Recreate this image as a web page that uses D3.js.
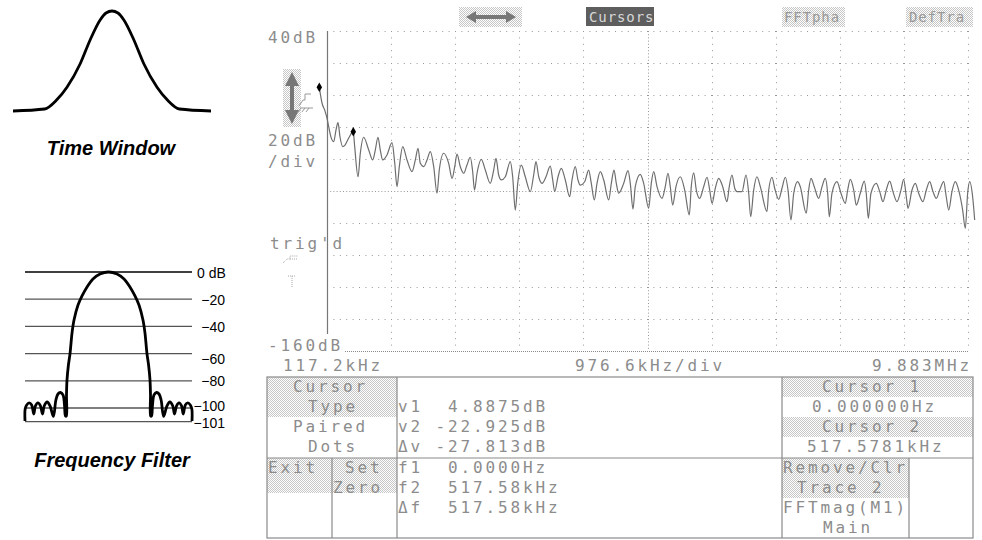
<!DOCTYPE html>
<html>
<head>
<meta charset="utf-8">
<script src="https://cdn.jsdelivr.net/npm/d3@7"></script>
<style>
body { margin: 0; background: #fff; }
svg { display: block; }
</style>
</head>
<body>
<script>
// FFT magnitude trace (kHz, dB)
var traceKHz = [0,41,82,117,143,178,219,254,285,315,
    357,392,448,517.6,539,590,625,676,753,814,
    853,894,929,966,1031,1108,1149,1184,1219,1271,
    1336,1412,1463,1504,1539,1591,1641,1691,1743,1793,
    1828,1895,1971,2022,2063,2098,2148,2200,2250,2300,
    2334,2365,2403,2468,2529,2605,2657,2692,2733,2773,
    2834,2910,2946,2986,3023,3077,3138,3215,3266,3301,
    3343,3393,3454,3519,3556,3586,3637,3687,3748,3815,
    3850,3900,3941,3976,4043,4104,4144,4190,4231,4281,
    4333,4409,4449,4490,4525,4561,4638,4703,4738,4779,
    4814,4890,4942,5018,5058,5095,5145,5221,5271,5312,
    5347,5384,5434,5500,5567,5637,5667,5704,5744,5795,
    5856,5907,5948,5983,6033,6085,6146,6211,6246,6287,
    6329,6364,6440,6501,6542,6572,6618,6668,6719,6821,
    6847,6897,6938,6999,7049,7100,7141,7186,7228,7288,
    7328,7419,7456,7491,7541,7608,7659,7709,7745,7770,
    7811,7887,7948,8014,8050,8090,8142,8181,8242,8303,
    8333,8364,8405,8486,8538,8588,8638,8690,8740,8801,
    8862,8903,8943,8969,9030,9080,9132,9197,9248,9299,
    9350,9400,9452,9513,9552,9589,9639,9689,9741,9802,
    9842,9878,9909,9959,9985];
var traceDb = [4.9,-5.0,-9.4,-14.4,-19.8,-26.3,-29.2,-21.9,-17.3,-26.1,
    -32.3,-31.3,-26.9,-22.9,-32.3,-51.1,-36.3,-26.4,-34.4,-40.6,
    -34.4,-26.4,-34.4,-40.6,-37.5,-29.8,-42.5,-57.3,-44.8,-32.3,
    -40.6,-47.9,-40.6,-33.3,-42.7,-44.8,-40.6,-35.4,-44.8,-61.4,
    -46.9,-36.4,-42.7,-52.1,-44.8,-36.9,-44.8,-48.9,-43.8,-38.9,
    -46.9,-59.4,-48.9,-40.2,-46.9,-55.2,-46.9,-39.6,-50.0,-53.1,
    -51.1,-41.7,-51.1,-71.9,-55.2,-43.8,-51.1,-60.4,-50.0,-41.7,
    -51.1,-55.2,-51.1,-44.4,-53.1,-60.4,-51.1,-45.8,-53.1,-63.6,
    -53.1,-44.8,-53.1,-56.3,-54.2,-46.9,-55.2,-65.6,-55.2,-47.9,
    -53.1,-65.6,-55.2,-46.9,-55.2,-61.4,-55.2,-47.3,-55.2,-71.3,
    -57.3,-49.6,-55.2,-70.8,-55.2,-47.9,-57.3,-64.6,-57.3,-48.9,
    -57.3,-68.8,-57.3,-51.1,-59.4,-75.0,-57.3,-48.6,-59.4,-64.6,
    -57.3,-51.4,-59.4,-67.7,-58.3,-52.1,-57.3,-66.7,-57.3,-50.0,
    -58.3,-60.4,-60.4,-50.0,-61.4,-76.1,-59.4,-51.1,-57.3,-72.9,
    -59.4,-51.4,-58.3,-65.2,-58.3,-51.4,-59.4,-78.1,-61.4,-54.2,
    -57.3,-73.9,-59.4,-52.1,-57.3,-64.6,-57.3,-52.1,-61.4,-76.1,
    -61.4,-54.2,-61.4,-67.7,-59.4,-52.7,-59.4,-68.8,-61.4,-53.8,
    -61.4,-77.1,-61.4,-55.2,-60.4,-66.7,-59.4,-53.8,-60.4,-66.7,
    -59.4,-52.7,-63.6,-70.8,-59.4,-55.2,-61.4,-66.7,-59.4,-54.2,
    -60.4,-64.6,-59.4,-54.2,-63.6,-71.9,-60.4,-54.2,-59.4,-71.9,
    -83.3,-61.4,-54.2,-65.6,-78.1];

// paired-dot cursors
var cursorKHz = [0, 517.58];
var cursorDb = [4.8875, -22.925];

// time window sketch (normalised time, amplitude)
var windowT = [-1,-0.68,-0.56,-0.455,-0.32,-0.22,-0.12,-0.06,0,0.06,0.12,0.22,0.32,0.455,0.56,0.68,1];
var windowAmp = [-0.01,0.01,0.10,0.23,0.47,0.71,0.91,0.98,1,0.98,0.91,0.71,0.47,0.23,0.10,0.01,-0.01];

// frequency filter sketch (bins, dB)
var filterBin = [-10,-9.98,-9.8,-9.5,-9.2,-8.95,-8.75,-8.45,-8.15,-7.9,-7.7,-7.35,-7.0,-6.6,-6.3,-6.05,-5.75,-5.45,-5.27,-5.15,
    -5.05,-5.03,-4.97,-4.8,-4.6,-4.37,-4.13,-3.65,-3.17,-2.57,-1.86,-1.02,0,
    1.02,1.86,2.57,3.17,3.65,4.13,4.37,4.6,4.8,4.97,5.03,5.05,
    5.15,5.27,5.45,5.75,6.05,6.3,6.6,7.0,7.35,7.7,7.9,8.15,8.45,8.75,8.95,9.2,9.5,9.8,9.98,10];
var filterDb = [-109.6,-100.7,-97.8,-96.3,-97.8,-104.4,-98.5,-96.3,-98.5,-104.4,-98.5,-95.6,-98.5,-106.2,-94.1,-89.7,-88.6,-90.4,-97.8,-105.9,
    -105.9,-90.4,-79.4,-68.4,-59.6,-44.9,-35.3,-24.3,-17.6,-11,-5.1,-1.5,0,
    -1.5,-5.1,-11,-17.6,-24.3,-35.3,-44.9,-59.6,-68.4,-79.4,-90.4,-105.9,
    -105.9,-97.8,-90.4,-88.6,-89.7,-94.1,-106.2,-98.5,-95.6,-98.5,-104.4,-98.5,-96.3,-98.5,-104.4,-97.8,-96.3,-97.8,-100.7,-109.6];
var filterLevels = [0, -20, -40, -60, -80, -100, -110];
var filterLabels = ['0 dB', '\u221220', '\u221240', '\u221260', '\u221280', '\u2212100', '\u2212101'];

// scope text
var menuTop = ['Cursors', 'FFTpha', 'DefTra'];
var cursorMenu = ['Cursor', 'Type', 'Paired', 'Dots'];
var readV = ['v1  4.8875dB', 'v2 -22.925dB', '\u0394v -27.813dB'];
var readF = ['f1  0.0000Hz', 'f2  517.58kHz', '\u0394f  517.58kHz'];
var cursorInfo = ['Cursor 1', '0.000000Hz', 'Cursor 2', '517.5781kHz'];
var traceMenu = ['Remove/Clr', 'Trace 2', 'FFTmag(M1)', 'Main'];

var W = 982, H = 540;
var svg = d3.select('body').append('svg').attr('width', W).attr('height', H);

var pat = svg.append('defs').append('pattern')
    .attr('id', 'stip').attr('width', 2).attr('height', 2)
    .attr('patternUnits', 'userSpaceOnUse');
pat.append('rect').attr('width', 2).attr('height', 2).attr('fill', '#fff');
pat.append('rect').attr('width', 1).attr('height', 1).attr('fill', '#c6c6c6');
pat.append('rect').attr('x', 1).attr('y', 1).attr('width', 1).attr('height', 1).attr('fill', '#c6c6c6');

function scopeText(g, str, x, y, size, fill) {
    size = size || 16;
    return g.append('text')
        .attr('x', x).attr('y', y)
        .attr('font-family', '"DejaVu Sans Mono", monospace')
        .attr('font-size', size)
        .attr('letter-spacing', size === 16 ? 2.87 : 0.9)
        .attr('fill', fill || '#8c8c8c')
        .style('white-space', 'pre')
        .text(str);
}
function stipple(x0, y0, x1, y1) {
    svg.append('rect').attr('x', x0).attr('y', y0)
        .attr('width', x1 - x0).attr('height', y1 - y0)
        .attr('fill', 'url(#stip)');
}

// ---------- left: time window ----------
var wx = d3.scaleLinear().domain([-1, 1]).range([13, 211]),
    wy = d3.scaleLinear().domain([0, 1]).range([110, 11]);
svg.append('path')
    .datum(windowT.map(function (t, i) { return [t, windowAmp[i]]; }))
    .attr('fill', 'none').attr('stroke', '#000').attr('stroke-width', 2.8)
    .attr('d', d3.line().x(function (d) { return wx(d[0]); }).y(function (d) { return wy(d[1]); })
        .curve(d3.curveMonotoneX));
svg.append('text').attr('x', 111).attr('y', 155).attr('text-anchor', 'middle')
    .attr('font-family', '"Liberation Sans", Arial, sans-serif').attr('font-size', 20)
    .attr('font-weight', 'bold').attr('font-style', 'italic').text('Time Window');

// ---------- left: frequency filter ----------
var fx = d3.scaleLinear().domain([-10, 10]).range([25, 192]),
    fy = d3.scaleLinear().domain([0, -100]).range([272, 408]);
svg.selectAll('line.flev').data(filterLevels).enter().append('line')
    .attr('x1', fx(-10)).attr('x2', fx(10))
    .attr('y1', function (d) { return fy(d); }).attr('y2', function (d) { return fy(d); })
    .attr('stroke', function (d, i) { return i === 0 ? '#000' : '#555'; })
    .attr('stroke-width', 1.3);
var labelShift = [5.5, 5.5, 5.5, 10, 5, 3, 6];
svg.selectAll('text.flab').data(filterLevels).enter().append('text')
    .attr('x', function (d, i) { return i === 0 ? 197 : 225; })
    .attr('y', function (d, i) { return fy(d) + labelShift[i]; })
    .attr('text-anchor', function (d, i) { return i === 0 ? 'start' : 'end'; })
    .attr('font-family', '"Liberation Sans", Arial, sans-serif').attr('font-size', 14)
    .text(function (d, i) { return filterLabels[i]; });
svg.append('path')
    .datum(filterBin.map(function (b, i) { return [b, filterDb[i]]; }))
    .attr('fill', 'none').attr('stroke', '#000').attr('stroke-width', 2.8)
    .attr('d', d3.line().x(function (d) { return fx(d[0]); }).y(function (d) { return fy(d[1]); })
        .curve(d3.curveCatmullRom.alpha(0.5)));
svg.append('text').attr('x', 112).attr('y', 467).attr('text-anchor', 'middle')
    .attr('font-family', '"Liberation Sans", Arial, sans-serif').attr('font-size', 20)
    .attr('font-weight', 'bold').attr('font-style', 'italic').text('Frequency Filter');

// ---------- scope screen ----------
var x = d3.scaleLinear().domain([117.2, 9883.2]).range([327, 968]),
    y = d3.scaleLinear().domain([-160, 40]).range([351, 31]);
var divKHz = 976.6;
var vGrid = d3.range(1, 11).map(function (i) { return 117.2 + i * divKHz; });
var hGrid = d3.range(-140, 41, 20);

var grid = svg.append('g');
grid.selectAll('line.h').data(hGrid).enter().append('line')
    .attr('x1', x(117.2)).attr('x2', x(9883.2))
    .attr('y1', function (d) { return y(d) + 0.5; }).attr('y2', function (d) { return y(d) + 0.5; })
    .attr('stroke', '#999').attr('stroke-width', 1)
    .attr('stroke-dasharray', function (d) { return d === -60 ? '1,2.2' : '1,5.4'; });
grid.selectAll('line.v').data(vGrid).enter().append('line')
    .attr('x1', function (d) { return Math.round(x(d)) + 0.5; })
    .attr('x2', function (d) { return Math.round(x(d)) + 0.5; })
    .attr('y1', y(40)).attr('y2', y(-160))
    .attr('stroke', '#999').attr('stroke-width', 1)
    .attr('stroke-dasharray', function (d, i) { return i === 4 ? '1,2.2' : '1,5.4'; });
// frame
svg.append('line').attr('x1', 327.5).attr('x2', 327.5).attr('y1', y(40)).attr('y2', 334)
    .attr('stroke', '#777').attr('stroke-width', 1.2);
svg.append('line').attr('x1', 345).attr('x2', x(9883.2)).attr('y1', 351.5).attr('y2', 351.5)
    .attr('stroke', '#888').attr('stroke-width', 1.2).attr('stroke-dasharray', '1,1');

// trace
svg.append('path')
    .datum(traceKHz.map(function (f, i) { return [f, traceDb[i]]; }))
    .attr('fill', 'none').attr('stroke', '#6e6e6e').attr('stroke-width', 1.2)
    .attr('stroke-linejoin', 'round')
    .attr('d', d3.line().x(function (d) { return x(d[0]); }).y(function (d) { return y(d[1]); })
        .curve(d3.curveMonotoneX));
svg.selectAll('path.cur').data(cursorKHz).enter().append('path')
    .attr('transform', function (d, i) { return 'translate(' + x(d) + ',' + y(cursorDb[i]) + ')'; })
    .attr('d', d3.symbol(d3.symbolDiamond, 26)).attr('fill', '#000');

// axis labels
scopeText(svg, '40dB', 268, 43);
scopeText(svg, '20dB', 268, 146);
scopeText(svg, '/div', 268, 167);
scopeText(svg, "trig'd", 270, 249);
scopeText(svg, '-160dB', 268, 351);
scopeText(svg, '117.2kHz', 283, 371);
scopeText(svg, '976.6kHz/div', 575, 371);
scopeText(svg, '9.883MHz', 972, 371).attr('text-anchor', 'end');

// side icons
stipple(283, 69, 301, 127);
svg.append('path')
    .attr('d', 'M292,72 L285,86 L290,86 L290,110 L285,110 L292,124 L299,110 L294,110 L294,86 L299,86 Z')
    .attr('fill', '#777');
svg.append('path').attr('d', 'M299,106 L303,100 L305,100 L305,94 L311,94 M300,108 L313,108 M301,108 L298,112 M305,108 L302,112 M309,108 L306,112')
    .attr('fill', 'none').attr('stroke', '#999').attr('stroke-width', 1);
svg.append('path').attr('d', 'M283,263 L287,259 L290,259 L290,256 L298,256 M290,259 L298,259')
    .attr('fill', 'none').attr('stroke', '#aaa').attr('stroke-width', 1).attr('stroke-dasharray', '1,1');
svg.append('path').attr('d', 'M288,276 L296,276 M292,276 L292,288')
    .attr('fill', 'none').attr('stroke', '#aaa').attr('stroke-width', 1).attr('stroke-dasharray', '1,1');

// top menu bar
stipple(459, 7, 522, 27);
svg.append('path')
    .attr('d', 'M466,17 L476,11 L476,15 L506,15 L506,11 L516,17 L506,23 L506,19 L476,19 L476,23 Z')
    .attr('fill', '#777');
svg.append('rect').attr('x', 586).attr('y', 7).attr('width', 68).attr('height', 19).attr('fill', '#5e5e5e');
scopeText(svg, menuTop[0], 589, 22, 14, '#d8d8d8');
stipple(782, 7, 845, 27);
scopeText(svg, menuTop[1], 784, 22, 14, '#999');
stipple(906, 7, 973, 27);
scopeText(svg, menuTop[2], 909, 22, 14, '#999');

// ---------- readout table ----------
var T = { x0: 267, x1: 973, y0: 377, y1: 538, ym: 458, c1: 397, c2: 782, s1: 332, s2: 909 };
stipple(T.x0, T.y0, T.c1, 417);
stipple(T.x0, T.ym, T.c1, 493);
stipple(T.c2, T.y0, T.x1, 397);
stipple(T.c2, 417, T.x1, 437);
stipple(T.c2, T.ym, T.s2, 498);
var tbl = svg.append('g').attr('stroke', '#8a8a8a').attr('stroke-width', 1.2).attr('fill', 'none');
tbl.append('rect').attr('x', T.x0).attr('y', T.y0).attr('width', T.x1 - T.x0).attr('height', T.y1 - T.y0);
tbl.append('line').attr('x1', T.x0).attr('x2', T.x1).attr('y1', T.ym).attr('y2', T.ym);
tbl.append('line').attr('x1', T.c1).attr('x2', T.c1).attr('y1', T.y0).attr('y2', T.y1);
tbl.append('line').attr('x1', T.c2).attr('x2', T.c2).attr('y1', T.y0).attr('y2', T.y1);
tbl.append('line').attr('x1', T.s1).attr('x2', T.s1).attr('y1', T.ym).attr('y2', T.y1);
tbl.append('line').attr('x1', T.s2).attr('x2', T.s2).attr('y1', T.ym).attr('y2', T.y1);

var rowY = [392, 412, 432, 452, 473, 493, 513, 533];
var cursorMenuX = [293, 308, 293, 308];
cursorMenu.forEach(function (s, i) { scopeText(svg, s, cursorMenuX[i], rowY[i]); });
scopeText(svg, 'Exit', 268, rowY[4]);
scopeText(svg, 'Set', 345, rowY[4]);
scopeText(svg, 'Zero', 333, rowY[5]);
readV.forEach(function (s, i) { scopeText(svg, s, 398, rowY[i + 1]); });
readF.forEach(function (s, i) { scopeText(svg, s, 398, rowY[i + 4]); });
var cursorInfoX = [822, 812, 822, 807];
cursorInfo.forEach(function (s, i) { scopeText(svg, s, cursorInfoX[i], rowY[i]); });
var traceMenuX = [783, 797, 783, 823];
traceMenu.forEach(function (s, i) { scopeText(svg, s, traceMenuX[i], rowY[i + 4]); });
</script>
</body>
</html>
